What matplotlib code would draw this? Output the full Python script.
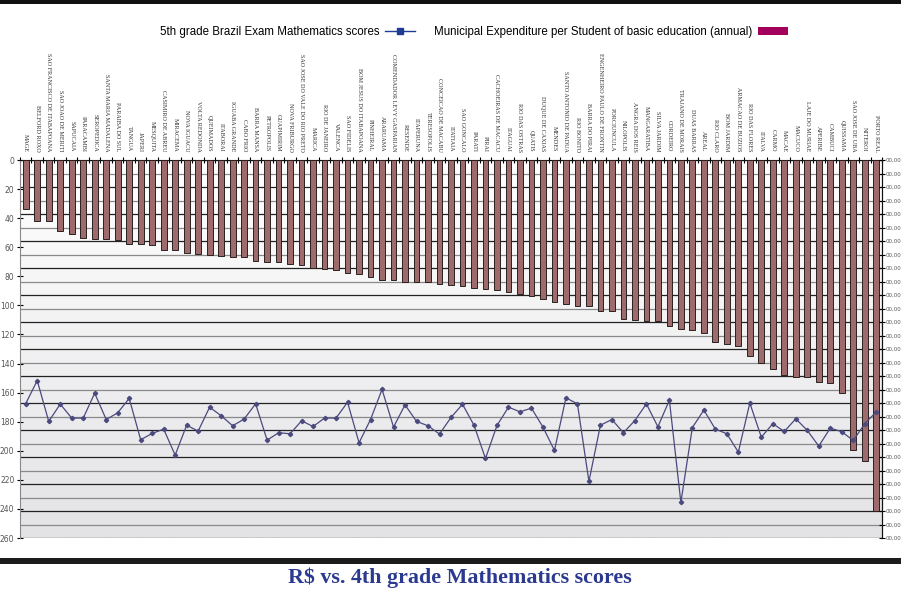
import numpy as np
import matplotlib
matplotlib.use('Agg')
from matplotlib import pyplot as plt
from matplotlib.colors import LinearSegmentedColormap
from matplotlib.patches import Rectangle, Patch
from matplotlib.lines import Line2D

# municipalities, sorted by expenditure
municipios = ['MAGE', 'BELFORD ROXO', 'SAO FRANCISCO DE ITABAPOANA', 'SAO JOAO DE MERITI',
              'SAPUCAIA', 'PARACAMBI', 'SEROPEDICA', 'SANTA MARIA MADALENA', 'PARAIBA DO SUL',
              'TANGUA', 'JAPERI', 'MESQUITA', 'CASIMIRO DE ABREU', 'MIRACEMA', 'NOVA IGUACU',
              'VOLTA REDONDA', 'QUEIMADOS', 'ITABORAI', 'IGUABA GRANDE', 'CABO FRIO',
              'BARRA MANSA', 'PETROPOLIS', 'GUAPIMIRIM', 'NOVA FRIBURGO',
              'SAO JOSE DO VALE DO RIO PRETO', 'MARICA', 'RIO DE JANEIRO', 'VALENCA',
              'SAO FIDELIS', 'BOM JESUS DO ITABAPOANA', 'PINHEIRAL', 'ARARUAMA',
              'COMENDADOR LEVY GASPARIAN', 'RESENDE', 'ITAPERUNA', 'TERESOPOLIS',
              'CONCEICAO DE MACABU', 'ITATIAIA', 'SAO GONCALO', 'PARATI', 'PIRAI',
              'CACHOEIRAS DE MACACU', 'ITAGUAI', 'RIO DAS OSTRAS', 'QUATIS', 'DUQUE DE CAXIAS',
              'MENDES', 'SANTO ANTONIO DE PADUA', 'RIO BONITO', 'BARRA DO PIRAI',
              'ENGENHEIRO PAULO DE FRONTIN', 'PORCIUNCULA', 'NILOPOLIS', 'ANGRA DOS REIS',
              'MANGARATIBA', 'SILVA JARDIM', 'CORDEIRO', 'TRAJANO DE MORAIS', 'DUAS BARRAS',
              'AREAL', 'RIO CLARO', 'BOM JARDIM', 'ARMACAO DE BUZIOS', 'RIO DAS FLORES',
              'ITALVA', 'CARMO', 'MACAE', 'MACUCO', 'LAJE DO MURIAE', 'APERIBE', 'CAMBUCI',
              'QUISSAMA', 'SAO JOSE DE UBA', 'NITEROI', 'PORTO REAL']

gasto = [33.9, 41.9, 41.9, 49.0, 50.9, 53.6, 54.5, 54.5, 55.2, 58.0,
         58.0, 58.4, 61.6, 62.1, 64.1, 64.6, 65.5, 66.0, 66.7, 66.9,
         69.6, 70.3, 70.3, 71.5, 72.2, 74.0, 74.7, 75.6, 77.4, 78.1,
         80.6, 82.5, 82.7, 83.6, 83.6, 83.6, 85.5, 86.1, 86.8, 87.7,
         88.4, 89.6, 90.5, 91.9, 93.5, 95.5, 97.8, 99.0, 100.3, 100.6,
         103.6, 103.8, 109.5, 110.2, 110.9, 110.9, 114.5, 116.3, 116.8, 118.7,
         125.3, 126.7, 128.1, 134.5, 139.5, 143.9, 148.0, 149.6, 149.6, 152.8,
         153.5, 160.6, 199.3, 207.3, 241.7]

notas = [167.5, 151.7, 179.8, 167.9, 177.5, 177.5, 160.4, 178.5, 173.9, 164.0,
         192.4, 188.1, 185.1, 203.0, 182.4, 186.5, 170.0, 175.9, 182.8, 178.2,
         167.7, 192.7, 187.6, 188.3, 179.4, 183.3, 177.5, 177.5, 166.6, 194.5,
         178.5, 157.8, 183.7, 168.4, 179.8, 182.8, 188.5, 177.1, 168.0, 182.4,
         205.3, 182.6, 170.0, 173.2, 170.7, 183.7, 199.8, 163.6, 167.7, 221.1,
         182.4, 178.5, 187.6, 179.2, 167.7, 183.5, 165.2, 235.5, 184.0, 172.0,
         185.1, 188.3, 200.9, 167.2, 190.6, 181.4, 186.7, 178.0, 186.0, 196.8,
         184.4, 186.9, 192.9, 181.4, 173.2]

left_ticks = list(range(0, 261, 20))
right_label = '00,00'
n_grid = 28

x = np.arange(1, len(municipios) + 1)

fig = plt.figure(figsize=(9.01, 5.89), dpi=100)
ax = fig.add_axes([20/901, 1-538/589, 862/901, 378/589])
ax.set_xlim(0.5, len(municipios) + 0.5)
ax.set_ylim(260, 0)

# gray gradient background
cmap = LinearSegmentedColormap.from_list('bg', ['#ffffff', '#e3e3e6'])
ax.imshow(np.linspace(0, 1, 256).reshape(-1, 1), extent=[0.5, len(municipios) + 0.5, 260, 0],
          cmap=cmap, aspect='auto', zorder=0)

grid_vals = np.arange(n_grid + 1) * 260 / n_grid
for i, g in enumerate(grid_vals):
    ax.axhline(g, color='#222222' if i % 2 == 0 else '#8a8a8a', lw=0.9, zorder=1)

ax.bar(x, gasto, width=0.5, color='#9e6b6c', edgecolor='#2a2020', lw=0.7, zorder=3)
ax.plot(x, notas, color='#4b4a7e', lw=0.9, marker='D', ms=2.2, zorder=4)

ax.xaxis.tick_top()
ax.set_xticks(x)
ax.set_xticklabels(municipios, rotation=270, fontsize=4.4, family='Liberation Serif', color='#333333')
ax.set_xticks(np.arange(0.5, len(municipios) + 1, 1), minor=True)
ax.tick_params(axis='x', which='major', length=0, pad=6)
ax.tick_params(axis='x', which='minor', length=4, direction='inout', width=0.8)

ax.set_yticks(left_ticks)
ax.set_yticklabels([str(t) for t in left_ticks], fontsize=5.5, color='#555555')
ax.tick_params(axis='y', length=4, direction='inout', width=0.8, pad=2)

ax.spines['top'].set_color('#111111')
ax.spines['left'].set_color('#888888')
ax.spines['bottom'].set_visible(False)
ax.spines['right'].set_color('#111111')

ax2 = ax.twinx()
ax2.set_ylim(260, 0)
ax2.set_yticks(grid_vals)
ax2.set_yticklabels([right_label] * len(grid_vals), fontsize=3.9, color='#555555')
ax2.tick_params(axis='y', length=4, direction='inout', width=0.8, pad=0.5)
for s in ['top', 'left', 'bottom']:
    ax2.spines[s].set_visible(False)
ax2.spines['right'].set_color('#111111')

h_line = Line2D([], [], color='#1f3b95', lw=1.0, marker='s', ms=5)
h_bar = Patch(facecolor='#a3005c', edgecolor='none')
fig.legend([h_line, h_bar],
           ['5th grade Brazil Exam Mathematics scores',
            'Municipal Expenditure per Student of basic education (annual)'],
           loc='center', bbox_to_anchor=(474/901, 1-32/589), ncol=2, markerfirst=False,
           frameon=False, prop={'family': 'Liberation Sans', 'size': 8.3},
           handlelength=2.6, handleheight=0.8, columnspacing=1.6, handletextpad=0.5)

fig.text(460/901, 1-578/589, 'R$ vs. 4th grade Mathematics scores', ha='center', va='center',
         fontsize=15.8, fontweight='bold', family='Liberation Serif', color='#2b3a8f')

fig.patches.append(Rectangle((0, 1-4/589), 1, 4/589, transform=fig.transFigure,
                             facecolor='#111111', edgecolor='none'))
fig.patches.append(Rectangle((0, 1-564/589), 1, 6/589, transform=fig.transFigure,
                             facecolor='#1c1c1c', edgecolor='none'))

fig.savefig('out.png', dpi=100)
